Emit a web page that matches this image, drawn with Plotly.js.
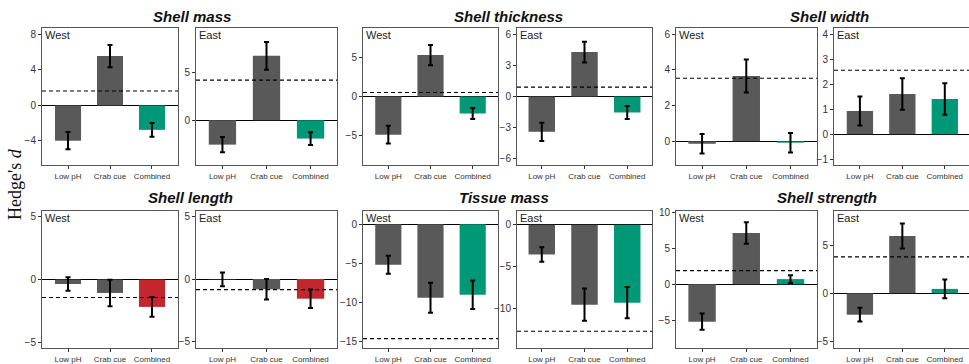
<!DOCTYPE html>
<html><head><meta charset="utf-8">
<script src="https://cdn.plot.ly/plotly-3.0.1.min.js"></script>
<style>html,body{margin:0;padding:0;background:#fff}#chart{width:969px;height:364px}</style>
</head><body><div id="chart"></div>
<script>
// ---------- DATA ----------
const categories = ["Low pH", "Crab cue", "Combined"];
const traits = ["Shell mass", "Shell thickness", "Shell width", "Shell length", "Tissue mass", "Shell strength"];
const sites = ["West", "East"];

const shellMassWest = [-3.97, 5.54, -2.75];
const shellMassWestErr = [0.97, 1.24, 0.77];
const shellMassEast = [-2.54, 6.70, -1.91];
const shellMassEastErr = [0.80, 1.44, 0.66];

const shellThicknessWest = [-4.85, 5.26, -2.16];
const shellThicknessWestErr = [1.12, 1.29, 0.70];
const shellThicknessEast = [-3.40, 4.28, -1.54];
const shellThicknessEastErr = [0.88, 1.00, 0.63];

const shellWidthWest = [-0.14, 3.66, -0.08];
const shellWidthWestErr = [0.55, 0.92, 0.55];
const shellWidthEast = [0.93, 1.61, 1.41];
const shellWidthEastErr = [0.58, 0.63, 0.63];

const shellLengthWest = [-0.36, -1.07, -2.18];
const shellLengthWestErr = [0.54, 1.05, 0.78];
const shellLengthEast = [-0.03, -0.82, -1.57];
const shellLengthEastErr = [0.55, 0.82, 0.74];

const tissueMassWest = [-5.17, -9.39, -9.00];
const tissueMassWestErr = [1.15, 1.92, 1.83];
const tissueMassEast = [-3.56, -9.57, -9.33];
const tissueMassEastErr = [0.86, 1.93, 1.87];

const shellStrengthWest = [-5.20, 7.14, 0.72];
const shellStrengthWestErr = [1.14, 1.50, 0.55];
const shellStrengthEast = [-2.24, 5.99, 0.46];
const shellStrengthEastErr = [0.72, 1.30, 0.98];

// dashed reference lines (West, East) per trait
const meanWest = [1.61, 0.51, 3.53, -1.43, -14.6, 1.90];
const meanEast = [4.17, 0.90, 2.56, -0.85, -12.75, 3.80];

// y tick labels per panel (trait order, West then East)
const yTicks = [
  [-4, 0, 4, 8], [0, 5],
  [-5, 0, 5], [-6, -3, 0, 3, 6],
  [0, 2, 4, 6], [-1, 0, 1, 2, 3, 4],
  [-5, 0, 5], [-5, 0, 5],
  [-15, -10, -5, 0], [-10, -5, 0],
  [-5, 0, 5, 10], [-5, 0, 5]
];

const values = [
  [shellMassWest, shellMassEast],
  [shellThicknessWest, shellThicknessEast],
  [shellWidthWest, shellWidthEast],
  [shellLengthWest, shellLengthEast],
  [tissueMassWest, tissueMassEast],
  [shellStrengthWest, shellStrengthEast]
];
const errors = [
  [shellMassWestErr, shellMassEastErr],
  [shellThicknessWestErr, shellThicknessEastErr],
  [shellWidthWestErr, shellWidthEastErr],
  [shellLengthWestErr, shellLengthEastErr],
  [tissueMassWestErr, tissueMassEastErr],
  [shellStrengthWestErr, shellStrengthEastErr]
];
const means = [meanWest, meanEast];

// ---------- STYLE / LAYOUT ----------
const W = 969, H = 364;
const GRAY = "#595959", GREEN = "#009877", RED = "#C4262E";
const combinedColor = [GREEN, GREEN, GREEN, RED, GREEN, GREEN];
const colPx = [[42, 178], [196, 337], [363, 498], [517, 652], [676, 817], [834, 969]];
const rowPx = [[28, 165], [211, 348]];
const xRanges = [[-0.62, 2.62], [-0.6, 2.6], [-0.6, 2.6], [-0.58, 2.58], [-0.59, 2.6], [-0.61, 2.57]];
const yRanges = [
  [-6.7, 8.7], [-4.66, 9.6],
  [-8.7, 8.7], [-6.6, 6.6],
  [-1.33, 6.35], [-1.23, 4.25],
  [-5.45, 5.45], [-5.5, 5.42],
  [-15.8, 1.7], [-14.75, 1.64],
  [-8.87, 10.2], [-5.72, 8.6]
];
const titlePx = [[192, 16.5], [508, 16.5], [829, 16.5], [190, 198], [504, 198], [827, 198]];

const FONT = "Liberation Sans, Arial, sans-serif";
const traces = [];
const layout = {
  width: W, height: H,
  margin: {l: 0, r: 0, t: 0, b: 0},
  paper_bgcolor: "#fff", plot_bgcolor: "#fff",
  showlegend: false,
  font: {family: FONT, color: "#333"},
  shapes: [], annotations: []
};

for (let t = 0; t < traits.length; t++) {
  const row = Math.floor(t / 3);
  for (let s = 0; s < 2; s++) {
    const p = t * 2 + s;
    const n = p + 1;
    const col = (t % 3) * 2 + s;
    const xa = "x" + (n === 1 ? "" : n), ya = "y" + (n === 1 ? "" : n);
    const colors = [GRAY, GRAY, combinedColor[t]];
    traces.push({
      type: "bar", x: categories, y: values[t][s],
      xaxis: xa, yaxis: ya, width: 0.62,
      marker: {color: colors, line: {width: 0}},
      error_y: {type: "data", array: errors[t][s], visible: true, color: "#000", thickness: 2, width: 2.5},
      hoverinfo: "skip"
    });
    const [x0, x1] = colPx[col];
    const [y0, y1] = rowPx[row];
    layout["xaxis" + n] = {
      domain: [x0 / W, x1 / W], anchor: ya, type: "category",
      range: xRanges[col], showgrid: false, zeroline: false,
      showline: true, mirror: true, linecolor: "#555", linewidth: 1,
      ticks: "outside", ticklen: 3, tickcolor: "#333",
      tickfont: {size: 8, color: "#333", family: FONT}, fixedrange: true
    };
    layout["yaxis" + n] = {
      domain: [1 - y1 / H, 1 - y0 / H], anchor: xa,
      range: yRanges[p], showgrid: false,
      zeroline: true, zerolinecolor: "#000", zerolinewidth: 1,
      showline: true, mirror: true, linecolor: "#555", linewidth: 1,
      tickmode: "array", tickvals: yTicks[p],
      ticks: "outside", ticklen: 3, tickcolor: "#333",
      tickfont: {size: 10, color: "#333", family: FONT}, fixedrange: true
    };
    layout.shapes.push({
      type: "line", xref: xa + " domain", yref: ya,
      x0: 0, x1: 1, y0: means[s][t], y1: means[s][t],
      line: {color: "#000", width: 1.1, dash: "4px,3px"}, layer: "above"
    });
    layout.annotations.push({
      text: sites[s], xref: xa + " domain", yref: ya + " domain",
      x: 0, y: 1, xanchor: "left", yanchor: "top", xshift: 1, yshift: 1,
      showarrow: false, font: {size: 11, color: "#222", family: FONT}
    });
  }
  layout.annotations.push({
    text: "<b><i>" + traits[t] + "</i></b>", xref: "paper", yref: "paper",
    x: titlePx[t][0] / W, y: 1 - titlePx[t][1] / H, xanchor: "center", yanchor: "middle",
    showarrow: false, font: {size: 15, color: "#111", family: FONT}
  });
}
layout.annotations.push({
  text: "Hedge's <i>d</i>", xref: "paper", yref: "paper",
  x: 15 / W, y: 1 - 184 / H, xanchor: "center", yanchor: "middle", textangle: -90,
  showarrow: false, font: {size: 18, color: "#111", family: "Liberation Serif, Times New Roman, serif"}
});

Plotly.newPlot("chart", traces, layout, {staticPlot: true, displayModeBar: false});
</script>
</body></html>
